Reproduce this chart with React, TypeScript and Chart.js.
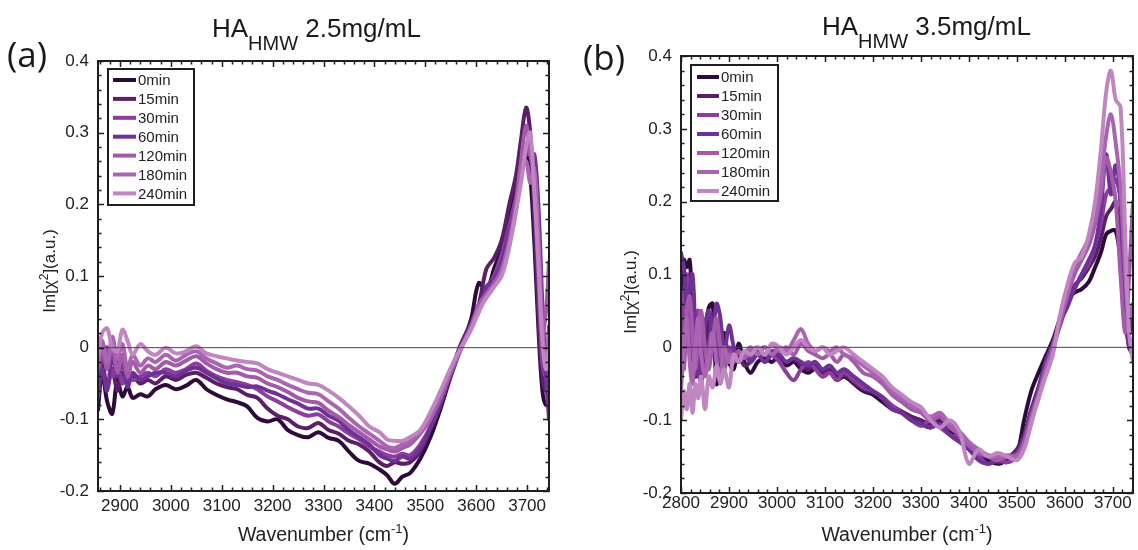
import React, { useEffect, useRef } from 'react';
import { Chart, registerables } from 'chart.js';

Chart.register(...registerables);

// ---------------- data ----------------
const seriesLabels = ['0min', '15min', '30min', '60min', '120min', '180min', '240min'];
const seriesColors = ['#2c0b3b', '#5b1f65', '#8c3d9d', '#6e3297', '#a25aa9', '#a964b2', '#c086c2'];

const yTickValues = [-0.2, -0.1, 0, 0.1, 0.2, 0.3, 0.4];
const xTickValuesA = [2900, 3000, 3100, 3200, 3300, 3400, 3500, 3600, 3700];
const xTickValuesB = [2800, 2900, 3000, 3100, 3200, 3300, 3400, 3500, 3600, 3700];

// Panel (a): HA_HMW 2.5 mg/mL
const wavenumberA = [
  2857, 2865, 2875, 2885, 2895, 2905, 2915, 2925, 2940, 2955,
  2970, 2990, 3010, 3030, 3050, 3070, 3090, 3110, 3130, 3150,
  3170, 3190, 3210, 3230, 3250, 3270, 3290, 3310, 3330, 3350,
  3370, 3390, 3410, 3425, 3440, 3455, 3470, 3490, 3510, 3530,
  3550, 3570, 3590, 3605, 3620, 3635, 3650, 3665, 3678, 3688,
  3698, 3706, 3714, 3722, 3730, 3737, 3743,
];
const a0min = [
  -0.087, -0.035, -0.075, -0.092, -0.045, -0.068, -0.055, -0.07, -0.065, -0.068,
  -0.058, -0.052, -0.058, -0.053, -0.045, -0.058, -0.066, -0.072, -0.076, -0.082,
  -0.098, -0.103, -0.1, -0.115, -0.122, -0.125, -0.118, -0.126, -0.13, -0.145,
  -0.158, -0.162, -0.17, -0.178, -0.19, -0.18, -0.175, -0.155, -0.125, -0.085,
  -0.04, 0.0, 0.04, 0.09, 0.08, 0.11, 0.14, 0.19, 0.23, 0.26,
  0.27, 0.24, 0.15, 0.03, -0.06, -0.08, -0.07,
];
const a15min = [
  -0.06, -0.02, -0.055, -0.03, -0.06, -0.035, -0.05, -0.04, -0.05, -0.045,
  -0.05, -0.04, -0.045, -0.038, -0.035, -0.042, -0.05, -0.055, -0.058, -0.066,
  -0.07, -0.085, -0.095, -0.1, -0.11, -0.112, -0.105, -0.115, -0.12, -0.13,
  -0.135, -0.145, -0.16, -0.165, -0.16, -0.162, -0.16, -0.145, -0.115, -0.08,
  -0.035, 0.005, 0.035, 0.06, 0.11, 0.125, 0.15, 0.2, 0.24, 0.29,
  0.335, 0.3, 0.18, 0.05, -0.04, -0.06, -0.04,
];
const a30min = [
  -0.05, -0.01, 0.0, -0.04, -0.02, -0.05, -0.03, -0.045, -0.04, -0.035,
  -0.04, -0.03, -0.035, -0.03, -0.022, -0.032, -0.04, -0.045, -0.048, -0.052,
  -0.058, -0.068, -0.075, -0.083, -0.09, -0.095, -0.093, -0.103, -0.11, -0.12,
  -0.128, -0.138, -0.145, -0.15, -0.152, -0.148, -0.15, -0.135, -0.11, -0.075,
  -0.035, 0.0, 0.03, 0.055, 0.08, 0.1, 0.13, 0.17, 0.21, 0.25,
  0.27, 0.28, 0.22, 0.1, -0.02, -0.04, 0.03,
];
const a60min = [
  -0.07, -0.03, -0.06, -0.01, -0.04, -0.02, -0.055, -0.035, -0.045, -0.04,
  -0.035, -0.035, -0.04, -0.032, -0.028, -0.035, -0.043, -0.05, -0.052, -0.055,
  -0.054, -0.06, -0.065, -0.072, -0.078, -0.085, -0.085, -0.095, -0.102, -0.115,
  -0.125, -0.135, -0.15, -0.155, -0.158, -0.152, -0.155, -0.14, -0.112, -0.078,
  -0.038, 0.0, 0.032, 0.05, 0.085, 0.095, 0.12, 0.16, 0.2, 0.245,
  0.26, 0.24, 0.27, 0.2, 0.06, -0.04, -0.1,
];
const a120min = [
  -0.03, 0.0, -0.03, 0.005, -0.035, -0.01, -0.04, -0.02, -0.035, -0.025,
  -0.03, -0.02, -0.025, -0.018, -0.012, -0.022, -0.03, -0.035, -0.035, -0.04,
  -0.042, -0.05, -0.055, -0.062, -0.07, -0.075, -0.077, -0.088, -0.097, -0.108,
  -0.118, -0.128, -0.138, -0.142, -0.145, -0.14, -0.135, -0.12, -0.1, -0.07,
  -0.035, -0.002, 0.03, 0.06, 0.075, 0.09, 0.11, 0.15, 0.2, 0.26,
  0.31, 0.27, 0.24, 0.14, 0.02, 0.05, 0.12,
];
const a180min = [
  -0.02, 0.01, -0.02, 0.015, -0.015, 0.005, -0.03, -0.01, -0.025, -0.015,
  -0.02, -0.01, -0.018, -0.01, -0.005, -0.015, -0.022, -0.028, -0.025, -0.03,
  -0.032, -0.04, -0.045, -0.052, -0.058, -0.063, -0.065, -0.075, -0.085, -0.098,
  -0.11, -0.12, -0.13, -0.138, -0.14, -0.135, -0.13, -0.118, -0.095, -0.065,
  -0.03, 0.0, 0.028, 0.055, 0.07, 0.085, 0.105, 0.145, 0.19, 0.25,
  0.26, 0.23, 0.25, 0.16, 0.03, -0.02, 0.02,
];
const a240min = [
  -0.01, 0.02, 0.027, 0.0, -0.005, 0.025, 0.01, -0.01, 0.005, -0.005,
  -0.01, 0.0, -0.008, -0.005, 0.002, -0.008, -0.012, -0.015, -0.018, -0.02,
  -0.022, -0.03, -0.035, -0.04, -0.045, -0.05, -0.052, -0.06, -0.07, -0.082,
  -0.095, -0.11, -0.118, -0.128, -0.13, -0.13, -0.125, -0.115, -0.09, -0.06,
  -0.028, 0.0, 0.025, 0.05, 0.07, 0.085, 0.1, 0.14, 0.19, 0.23,
  0.28, 0.3, 0.22, 0.12, 0.01, -0.03, 0.0,
];

// Panel (b): HA_HMW 3.5 mg/mL
const wavenumberB = [
  2800, 2806, 2812, 2818, 2824, 2830, 2836, 2842, 2850, 2858,
  2866, 2874, 2882, 2890, 2900, 2910, 2920, 2932, 2945, 2960,
  2975, 2990, 3005, 3020, 3035, 3050, 3065, 3080, 3095, 3110,
  3125, 3140, 3160, 3180, 3200, 3220, 3240, 3260, 3280, 3300,
  3320, 3340, 3360, 3380, 3400, 3420, 3440, 3460, 3480, 3500,
  3515, 3530, 3545, 3560, 3575, 3590, 3605, 3620, 3635, 3650,
  3663, 3675, 3686, 3696, 3706, 3716, 3726, 3734, 3742,
];
const b0min = [
  0.02, 0.12, 0.11, 0.12, 0.05, -0.04, 0.0, -0.05, 0.02, 0.055,
  0.06, -0.05, -0.01, 0.02, -0.02, -0.03, 0.005, -0.02, -0.035, -0.02,
  -0.015, -0.02, -0.01, -0.025, -0.02, -0.03, -0.035, -0.03, -0.04, -0.035,
  -0.045, -0.04, -0.05, -0.06, -0.065, -0.075, -0.085, -0.09, -0.1, -0.105,
  -0.11, -0.1, -0.115, -0.125, -0.14, -0.15, -0.155, -0.16, -0.155, -0.145,
  -0.1, -0.06, -0.035, -0.012, 0.01, 0.04, 0.065, 0.075, 0.08, 0.09,
  0.11, 0.13, 0.155, 0.16, 0.16, 0.12, 0.04, 0.0, -0.01,
];
const b15min = [
  0.0, 0.08, 0.03, 0.1, 0.09, 0.0, -0.03, 0.02, -0.02, 0.03,
  0.045, 0.0, -0.03, 0.0, -0.01, -0.02, -0.01, -0.025, -0.02, -0.01,
  -0.02, -0.01, -0.015, -0.02, -0.015, -0.025, -0.03, -0.025, -0.035, -0.03,
  -0.04, -0.038, -0.048, -0.058, -0.062, -0.07, -0.08, -0.088, -0.095, -0.1,
  -0.105, -0.098, -0.11, -0.12, -0.135, -0.148, -0.15, -0.158, -0.152, -0.14,
  -0.12, -0.085, -0.055, -0.02, 0.005, 0.035, 0.06, 0.085, 0.095, 0.11,
  0.125, 0.15, 0.18, 0.19, 0.2, 0.14, 0.06, 0.02, 0.05,
];
const b30min = [
  -0.03, 0.07, 0.1, 0.04, -0.02, 0.03, 0.05, -0.01, -0.03, 0.0,
  0.03, 0.02, -0.02, -0.02, 0.0, -0.01, -0.02, -0.01, -0.015, -0.005,
  0.0, -0.01, -0.02, -0.035, -0.045, -0.03, -0.02, -0.03, -0.04, -0.035,
  -0.045, -0.035, -0.045, -0.055, -0.06, -0.068, -0.08, -0.09, -0.1, -0.108,
  -0.1, -0.11, -0.12, -0.125, -0.14, -0.15, -0.16, -0.155, -0.158, -0.15,
  -0.125, -0.09, -0.06, -0.025, 0.0, 0.03, 0.06, 0.08, 0.1, 0.115,
  0.14, 0.17, 0.21, 0.22, 0.23, 0.2, 0.08, 0.0, 0.01,
];
const b60min = [
  0.13, 0.11, 0.06, 0.08, 0.1, 0.02, -0.04, -0.02, 0.03, 0.05,
  0.02, 0.06, 0.04, -0.01, 0.03, 0.0, -0.02, -0.01, -0.02, -0.01,
  -0.02, -0.005, -0.01, -0.02, -0.015, -0.02, -0.025, -0.02, -0.03, -0.025,
  -0.035, -0.03, -0.04, -0.05, -0.06, -0.07, -0.085, -0.09, -0.1, -0.105,
  -0.11, -0.105, -0.12, -0.13, -0.14, -0.155, -0.16, -0.155, -0.15, -0.145,
  -0.125, -0.09, -0.06, -0.02, 0.005, 0.035, 0.055, 0.08, 0.1, 0.12,
  0.14, 0.19, 0.265, 0.21, 0.25, 0.2, 0.06, 0.0, -0.01,
];
const b120min = [
  0.02, -0.03, 0.05, 0.07, 0.02, -0.03, 0.02, 0.05, 0.0, -0.03,
  0.01, 0.04, 0.0, -0.03, -0.01, -0.02, -0.005, -0.015, -0.005, 0.0,
  -0.01, 0.005, -0.005, 0.0, -0.01, 0.005, -0.005, -0.01, -0.015, -0.01,
  -0.02, -0.01, -0.02, -0.035, -0.04, -0.05, -0.065, -0.075, -0.085, -0.09,
  -0.1, -0.095, -0.11, -0.12, -0.135, -0.145, -0.15, -0.155, -0.15, -0.148,
  -0.13, -0.095, -0.065, -0.03, 0.0, 0.035, 0.07, 0.1, 0.12, 0.14,
  0.17, 0.21, 0.26, 0.24, 0.2, 0.1, 0.02, 0.1, 0.2,
];
const b180min = [
  -0.06, 0.0, 0.04, -0.02, -0.05, 0.0, 0.04, -0.01, -0.04, -0.01,
  0.02, -0.02, -0.04, 0.0, -0.02, -0.01, -0.02, -0.01, 0.0, -0.01,
  0.0, -0.01, 0.0, -0.005, 0.01, 0.025, 0.005, -0.005, 0.0, -0.005,
  0.0, -0.01, -0.015, -0.025, -0.035, -0.045, -0.06, -0.07, -0.08, -0.088,
  -0.095, -0.09, -0.105, -0.115, -0.13, -0.14, -0.148, -0.15, -0.148, -0.15,
  -0.135, -0.1, -0.07, -0.035, -0.005, 0.04, 0.075, 0.11, 0.13, 0.15,
  0.18, 0.23, 0.29, 0.32, 0.28, 0.22, 0.1, 0.04, 0.06,
];
const b240min = [
  -0.1, -0.06, -0.085, -0.05, -0.09, -0.05, -0.07, -0.04, -0.085, -0.04,
  -0.055, -0.025, -0.05, -0.03, -0.055, -0.01, -0.02, -0.005, -0.01, 0.0,
  -0.01, 0.005, 0.0, -0.01, 0.0, 0.01, 0.0, -0.005, 0.0, -0.01,
  -0.005, 0.0, -0.01, -0.02, -0.03, -0.04, -0.055, -0.065, -0.075, -0.082,
  -0.1, -0.11, -0.1, -0.115, -0.16, -0.14, -0.15, -0.145, -0.15, -0.155,
  -0.14, -0.105, -0.07, -0.04, -0.01, 0.045, 0.085, 0.115, 0.125, 0.155,
  0.2, 0.27, 0.35, 0.38, 0.34, 0.33, 0.15, 0.02, -0.02,
];

const seriesA = [a0min, a15min, a30min, a60min, a120min, a180min, a240min];
const seriesB = [b0min, b15min, b30min, b60min, b120min, b180min, b240min];

// ---------------- layout / style ----------------
const FONT = '"Liberation Sans", Arial, Helvetica, sans-serif';
const INK = '#1e1e1e';
const CANVAS_W = 569;
const CANVAS_H = 550;

type Part = { t: string; size: number; dy?: number };

type PanelCfg = {
  offsetX: number;
  wavenumber: number[];
  series: number[][];
  xMin: number;
  xMax: number;
  xTicks: number[];
  area: { left: number; right: number; top: number; bottom: number };
  xLabelPad: number;
  tag: string;
  tagPos: [number, number];
  title: Part[];
  titlePos: [number, number];
  yTitlePos: [number, number];
  xTitleBaseline: number;
  legend: { dx: number; dy: number; w: number; h: number; first: number; row: number; lineDx: number; lineLen: number; textDx: number };
};

const panels: PanelCfg[] = [
  {
    offsetX: 0,
    wavenumber: wavenumberA,
    series: seriesA,
    xMin: 2857,
    xMax: 3743,
    xTicks: xTickValuesA,
    area: { left: 98, right: 549, top: 61, bottom: 491 },
    xLabelPad: 5,
    tag: '(a)',
    tagPos: [7, 67],
    title: [
      { t: 'HA', size: 26 },
      { t: 'HMW', size: 20, dy: 13 },
      { t: ' 2.5mg/mL', size: 26 },
    ],
    titlePos: [212, 37],
    yTitlePos: [49, 271],
    xTitleBaseline: 541,
    legend: { dx: 10, dy: 8, w: 86, h: 136, first: 11, row: 18.9, lineDx: 5, lineLen: 23, textDx: 30 },
  },
  {
    offsetX: 569,
    wavenumber: wavenumberB,
    series: seriesB,
    xMin: 2800,
    xMax: 3742,
    xTicks: xTickValuesB,
    area: { left: 112, right: 564, top: 56, bottom: 493 },
    xLabelPad: 0,
    tag: '(b)',
    tagPos: [14, 70],
    title: [
      { t: 'HA', size: 26 },
      { t: 'HMW', size: 20, dy: 13 },
      { t: ' 3.5mg/mL', size: 26 },
    ],
    titlePos: [253, 35],
    yTitlePos: [61, 292],
    xTitleBaseline: 541,
    legend: { dx: 10, dy: 9, w: 87, h: 136, first: 12, row: 19, lineDx: 6, lineLen: 22, textDx: 30 },
  },
];

function drawRich(ctx: CanvasRenderingContext2D, parts: Part[], x: number, y: number, center: boolean, family: string) {
  const widths = parts.map((p) => {
    ctx.font = `${p.size}px ${family}`;
    return ctx.measureText(p.t).width;
  });
  const total = widths.reduce((s, w) => s + w, 0);
  let cx = center ? x - total / 2 : x;
  ctx.textAlign = 'left';
  ctx.textBaseline = 'alphabetic';
  parts.forEach((p, i) => {
    ctx.font = `${p.size}px ${family}`;
    ctx.fillText(p.t, cx, y + (p.dy || 0));
    cx += widths[i];
  });
}

function makeDecor(p: PanelCfg) {
  return {
    id: 'decor',
    afterDatasetsDraw(chart: any) {
      const { ctx, chartArea: a, scales } = chart;
      const xs = scales.x;
      const ys = scales.y;
      ctx.save();
      // zero reference line
      const y0 = ys.getPixelForValue(0);
      ctx.strokeStyle = '#444';
      ctx.lineWidth = 1;
      ctx.beginPath();
      ctx.moveTo(a.left, y0);
      ctx.lineTo(a.right, y0);
      ctx.stroke();

      // ticks, inward on all four sides
      ctx.strokeStyle = INK;
      ctx.lineWidth = 1.5;
      ctx.beginPath();
      const start = Math.ceil(xs.min / 20) * 20;
      for (let v = start; v <= xs.max; v += 20) {
        const major = v % 100 === 0;
        const len = major ? 6 : 3.5;
        const px = Math.round(xs.getPixelForValue(v)) + 0.5;
        ctx.moveTo(px, a.bottom);
        ctx.lineTo(px, a.bottom - len);
        ctx.moveTo(px, a.top);
        ctx.lineTo(px, a.top + len);
      }
      for (let k = -10; k <= 20; k++) {
        const v = k / 50;
        const major = k % 5 === 0;
        const len = major ? 6 : 3.5;
        const py = Math.round(ys.getPixelForValue(v)) + 0.5;
        ctx.moveTo(a.left, py);
        ctx.lineTo(a.left + len, py);
        ctx.moveTo(a.right, py);
        ctx.lineTo(a.right - len, py);
      }
      ctx.stroke();

      // frame
      ctx.lineWidth = 2;
      ctx.strokeRect(a.left, a.top, a.right - a.left, a.bottom - a.top);

      // legend
      const lg = p.legend;
      const bx = a.left + lg.dx;
      const by = a.top + lg.dy;
      ctx.fillStyle = '#ffffff';
      ctx.fillRect(bx, by, lg.w, lg.h);
      ctx.strokeStyle = INK;
      ctx.lineWidth = 2;
      ctx.strokeRect(bx, by, lg.w, lg.h);
      chart.data.datasets.forEach((ds: any, i: number) => {
        const yy = by + lg.first + i * lg.row;
        ctx.strokeStyle = ds.borderColor;
        ctx.lineWidth = 4;
        ctx.lineCap = 'butt';
        ctx.beginPath();
        ctx.moveTo(bx + lg.lineDx, yy);
        ctx.lineTo(bx + lg.lineDx + lg.lineLen, yy);
        ctx.stroke();
        ctx.fillStyle = '#222';
        ctx.font = `15px ${FONT}`;
        ctx.textAlign = 'left';
        ctx.textBaseline = 'middle';
        ctx.fillText(ds.label, bx + lg.textDx, yy + 1);
      });
      ctx.restore();
    },
    afterDraw(chart: any) {
      const { ctx, chartArea: a } = chart;
      ctx.save();
      ctx.fillStyle = '#1a1a1a';
      // title
      drawRich(ctx, p.title, p.titlePos[0], p.titlePos[1], false, FONT);
      // panel tag
      ctx.font = `35px "Open Sans", ${FONT}`;
      ctx.textAlign = 'left';
      ctx.textBaseline = 'alphabetic';
      ctx.fillText(p.tag, p.tagPos[0], p.tagPos[1]);
      // x title
      ctx.fillStyle = '#222';
      drawRich(
        ctx,
        [
          { t: 'Wavenumber (cm', size: 19.5 },
          { t: '-1', size: 13, dy: -8 },
          { t: ')', size: 19.5 },
        ],
        (a.left + a.right) / 2,
        p.xTitleBaseline,
        true,
        FONT,
      );
      // y title
      ctx.save();
      ctx.translate(p.yTitlePos[0] + 6, p.yTitlePos[1]);
      ctx.rotate(-Math.PI / 2);
      drawRich(
        ctx,
        [
          { t: 'Im[\u03C7', size: 17 },
          { t: '2', size: 12, dy: -7 },
          { t: '](a.u.)', size: 17 },
        ],
        0,
        0,
        true,
        FONT,
      );
      ctx.restore();
      ctx.restore();
    },
  };
}

function Panel({ cfg }: { cfg: PanelCfg }) {
  const ref = useRef<HTMLCanvasElement | null>(null);
  useEffect(() => {
    if (!ref.current) return;
    const a = cfg.area;
    const datasets = cfg.series.map((ys, i) => ({
      label: seriesLabels[i],
      data: cfg.wavenumber.map((x, j) => ({ x, y: ys[j] })),
      borderColor: seriesColors[i],
      backgroundColor: seriesColors[i],
      borderWidth: 4,
      pointRadius: 0,
      tension: 0.35,
      fill: false,
      order: seriesLabels.length - i,
      clip: 0,
    }));
    const chart = new Chart(ref.current, {
      type: 'line',
      data: { datasets },
      options: {
        animation: false,
        responsive: false,
        maintainAspectRatio: false,
        devicePixelRatio: 1,
        events: [],
        layout: { padding: { left: 0, top: a.top, right: CANVAS_W - a.right, bottom: 0 } },
        plugins: {
          legend: { display: false },
          tooltip: { enabled: false },
          title: { display: false },
        },
        elements: { line: { borderCapStyle: 'round', borderJoinStyle: 'round' } },
        scales: {
          x: {
            type: 'linear',
            min: cfg.xMin,
            max: cfg.xMax,
            grid: { display: false, drawTicks: false },
            border: { display: false },
            ticks: {
              color: '#222',
              font: { family: FONT, size: 17 },
              padding: cfg.xLabelPad,
              maxRotation: 0,
              autoSkip: false,
              callback: (v: any) => String(v),
            },
            afterBuildTicks: (s: any) => {
              s.ticks = cfg.xTicks.map((v) => ({ value: v }));
            },
            afterFit: (s: any) => {
              s.height = CANVAS_H - a.bottom;
            },
          },
          y: {
            type: 'linear',
            min: -0.2,
            max: 0.4,
            grid: { display: false, drawTicks: false },
            border: { display: false },
            ticks: {
              color: '#222',
              font: { family: FONT, size: 17 },
              padding: 9,
              autoSkip: false,
              callback: (v: any) => (Math.abs(v) < 1e-9 ? '0' : Number(v).toFixed(1)),
            },
            afterBuildTicks: (s: any) => {
              s.ticks = yTickValues.map((v) => ({ value: v }));
            },
            afterFit: (s: any) => {
              s.width = a.left;
            },
          },
        },
      },
      plugins: [makeDecor(cfg)],
    } as any);
    return () => chart.destroy();
  }, [cfg]);
  return (
    <canvas
      ref={ref}
      width={CANVAS_W}
      height={CANVAS_H}
      style={{ position: 'absolute', left: cfg.offsetX, top: 0, width: CANVAS_W, height: CANVAS_H }}
    />
  );
}

export default function App() {
  return (
    <div style={{ position: 'absolute', left: 0, top: 0, width: 1138, height: 550, background: '#fff', overflow: 'hidden' }}>
      {panels.map((p) => (
        <Panel key={p.tag} cfg={p} />
      ))}
    </div>
  );
}
